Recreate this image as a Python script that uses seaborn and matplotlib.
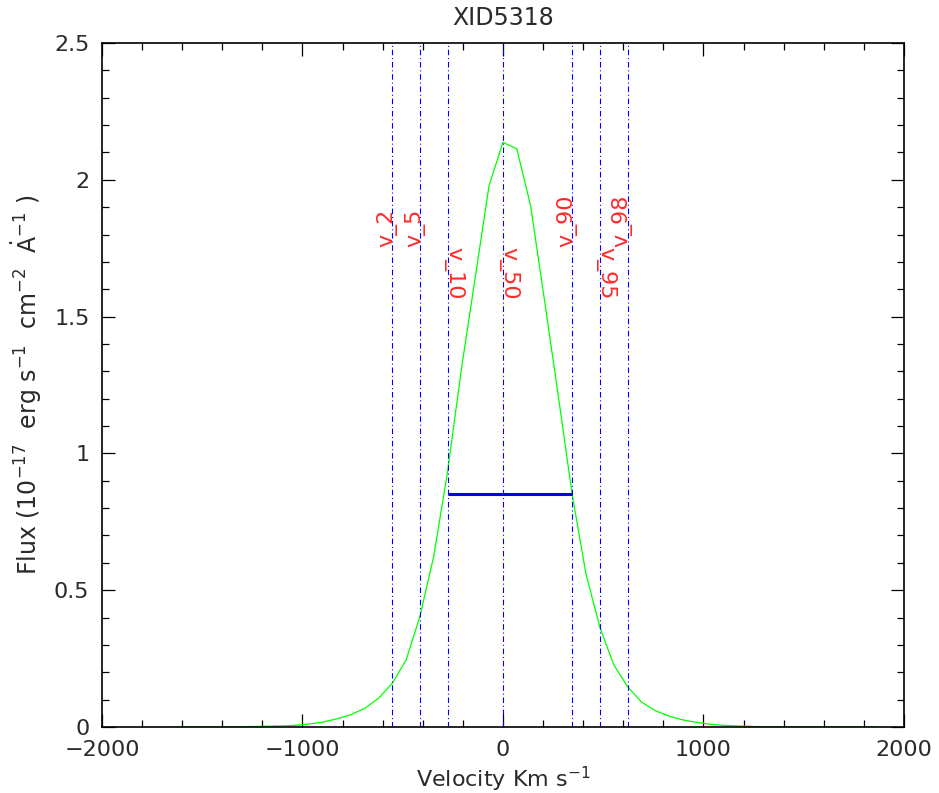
import numpy as np
import pandas as pd
import matplotlib
matplotlib.use("Agg")
import matplotlib.pyplot as plt
from matplotlib.ticker import MultipleLocator
import seaborn as sns

# Emission-line profile in velocity space
velocity = [-1656, -1587, -1518, -1449, -1380, -1311, -1242, -1173, -1104, -1035,
            -966, -897, -828, -759, -690, -621, -552, -483, -414, -345,
            -276, -207, -138, -69, 0, 69, 138, 207, 276, 345,
            414, 483, 552, 621, 690, 759, 828, 897, 966, 1035,
            1104, 1173, 1242, 1311, 1380, 1449, 1518, 1587, 1656, 1725,
            1794, 1863]
flux = [0.000, 0.000, 0.000, 0.000, 0.001, 0.001, 0.002, 0.003, 0.004, 0.006,
        0.011, 0.018, 0.030, 0.045, 0.068, 0.105, 0.160, 0.245, 0.405, 0.625,
        0.935, 1.310, 1.645, 1.980, 2.137, 2.113, 1.905, 1.560, 1.210, 0.850,
        0.560, 0.365, 0.228, 0.148, 0.092, 0.060, 0.040, 0.026, 0.017, 0.010,
        0.006, 0.004, 0.002, 0.001, 0.001, 0.000, 0.000, 0.000, 0.000, 0.000,
        0.000, 0.000]

# Percentile velocities
pct_labels = ["v_2", "v_5", "v_10", "v_50", "v_90", "v_95", "v_98"]
pct_velocity = [-552, -412, -274, 2, 346, 484, 622]
label_rotation = [90, 90, 270, 270, 90, 270, 90]
label_y = 1.755

# Width bar between v_10 and v_90
width_level = 0.85

sns.set_style("ticks")
plt.rcParams["font.family"] = ["DejaVu Sans"]

fig = plt.figure(figsize=(9.39, 7.93), dpi=100)
ax = fig.add_axes([0.1086, 0.0832, 0.8541, 0.8626])

df = pd.DataFrame({"velocity": velocity, "flux": flux})
sns.lineplot(data=df, x="velocity", y="flux", ax=ax, color="#00ff00",
             linewidth=0.9, sort=False)

for lab, v, rot in zip(pct_labels, pct_velocity, label_rotation):
    ax.axvline(v, color="#0000ff", linewidth=0.8, dashes=(5, 2.5, 1, 2.5))
    ax.text(v, label_y, lab, rotation=rot, ha="left", va="baseline",
            rotation_mode="anchor", color="#ff2a2a", fontsize=16)

ax.plot([pct_velocity[2], pct_velocity[4]], [width_level, width_level],
        color="#0000ff", linewidth=2.2, solid_capstyle="butt")

ax.set_xlim(-2000, 2000)
ax.set_ylim(0, 2.5)
ax.xaxis.set_major_locator(MultipleLocator(1000))
ax.xaxis.set_minor_locator(MultipleLocator(200))
ax.yaxis.set_major_locator(MultipleLocator(0.5))
ax.yaxis.set_minor_locator(MultipleLocator(0.1))
ax.set_yticks([0, 0.5, 1, 1.5, 2, 2.5])
ax.set_yticklabels(["0", "0.5", "1", "1.5", "2", "2.5"])
ax.tick_params(which="both", direction="in", top=True, right=True,
               color="black", labelsize=16, labelcolor="#2a2a2a")
ax.tick_params(which="major", length=9.5, width=0.9, pad=9)
ax.tick_params(which="minor", length=4.8, width=0.9)
for sp in ax.spines.values():
    sp.set_visible(True)
    sp.set_color("black")
    sp.set_linewidth(1.2)

ax.set_title("XID5318", fontsize=17, color="#2a2a2a", pad=13)
ax.set_xlabel(r"Velocity Km s$^{-1}$", fontsize=16, color="#2a2a2a", labelpad=4)
ax.set_ylabel(r"Flux (10$^{-17}$  erg s$^{-1}$  cm$^{-2}$  $\dot{\mathrm{A}}^{-1}$ )",
              fontsize=17, color="#2a2a2a", labelpad=7)

fig.savefig("out.png", dpi=100)
